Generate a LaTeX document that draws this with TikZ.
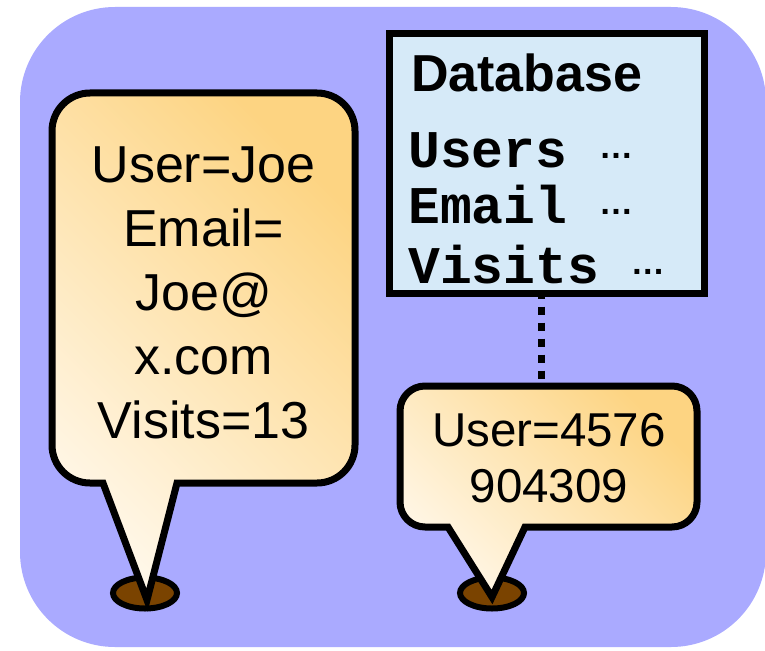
\documentclass[tikz,border=0pt]{standalone}
\usepackage{fontspec}
\setmainfont{Liberation Sans}
\setmonofont{Liberation Mono}
\usetikzlibrary{shapes.geometric,positioning}

\definecolor{lavender}{RGB}{170,170,255}
\definecolor{dbblue}{RGB}{214,234,248}
\definecolor{cream}{RGB}{255,247,232}
\definecolor{apricot}{RGB}{253,212,130}
\definecolor{soil}{RGB}{122,67,0}

\tikzset{
  balloon/.style={draw=black,line width=7pt,bottom color=cream,top color=apricot,shading angle=-45},
  bodybox/.style={rectangle,draw=none,inner sep=0pt,outer sep=0pt},
  hole/.style={ellipse,draw=black,line width=6pt,fill=soil,minimum width=64pt,minimum height=31pt,inner sep=0pt},
  dbbox/.style={rectangle,draw=black,line width=7pt,fill=dbblue,inner sep=0pt,outer sep=0pt},
  dotline/.style={line width=7pt,dash pattern=on 8pt off 8pt,dash phase=3pt},
  dbline/.style={anchor=base west,inner sep=0pt}
}
\newcommand{\dbdots}{{\fontsize{34}{34}\selectfont\rmfamily\raisebox{9pt}{\dots}}}

\begin{document}
\begin{tikzpicture}[x=1pt,y=-1pt]
\useasboundingbox (0,0) rectangle (765,650);
\fill[lavender,rounded corners=95pt] (20,7) rectangle (766,647);

% the two spots on the ground
\node[hole] (spotjoe) at (145,593) {};
\node[hole] (spotnum) at (492,593) {};

% cookie on the client
\node[bodybox,minimum width=303pt,minimum height=390pt] (joebody) at (203.5,288) {};
\draw[balloon] (spotjoe.center) ++(2,7) -- ([xshift=125pt]joebody.south west)
  [rounded corners=38pt] -- (joebody.south east) -- (joebody.north east)
  -- (joebody.north west) -- (joebody.south west)
  [sharp corners] -- ([xshift=51pt]joebody.south west) -- cycle;
\node[align=center,font=\fontsize{52}{64}\selectfont] (joe) at (203.5,293)
  {User=Joe\\Email=\\Joe@\\x.com\\Visits=13};

% cookie holding only an id
\node[bodybox,minimum width=297pt,minimum height=141pt] (numbody) at (548.5,456.5) {};
\draw[balloon] (spotnum.center) ++(0,4) -- ([xshift=125pt]numbody.south west)
  [rounded corners=25pt] -- (numbody.south east) -- (numbody.north east)
  -- (numbody.north west) -- (numbody.south west)
  [sharp corners] -- ([xshift=48pt]numbody.south west) -- cycle;
\node[align=center,font=\fontsize{47.5}{56}\selectfont] (num) at (549,458)
  {User=4576\\904309};

% server side table
\node[dbbox,minimum width=315pt,minimum height=260pt] (db) at (547,163.5) {};
\node[dbline,font=\fontsize{52}{52}\selectfont\bfseries] (dbtitle) at (411,92) {Database};
\node[dbline,font=\fontsize{53}{53}\selectfont\ttfamily\bfseries] (dbusers) at (408,167) {Users \dbdots};
\node[dbline,font=\fontsize{53}{53}\selectfont\ttfamily\bfseries] (dbemail) at (408,223) {Email \dbdots};
\node[dbline,font=\fontsize{53}{53}\selectfont\ttfamily\bfseries] (dbvisits) at (408,283) {Visits \dbdots};

\draw[dotline] ([xshift=-6pt]db.south) -- ([xshift=-7.5pt]numbody.north);
\end{tikzpicture}
\end{document}
